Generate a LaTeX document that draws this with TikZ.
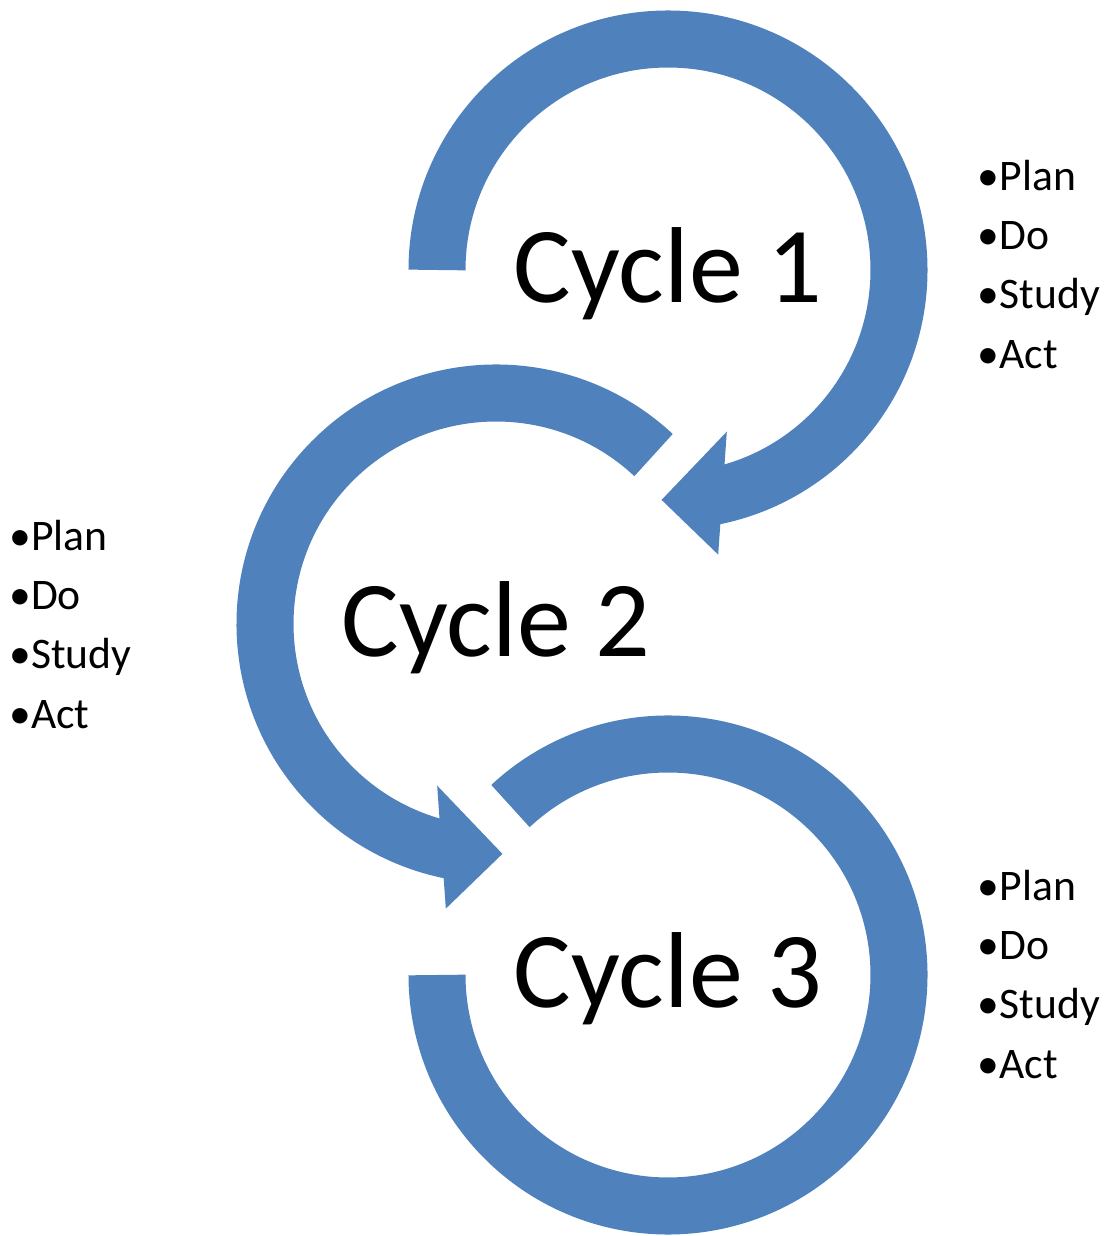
\documentclass[tikz,border=0pt]{standalone}
\usepackage{fontspec}
\setmainfont{Carlito}
\usetikzlibrary{positioning}
\definecolor{pdsablue}{RGB}{79,129,189}

\begin{document}
\begin{tikzpicture}
    [
    x=0.01cm, y=0.01cm,
    ring/.style={draw=pdsablue, line width=0.57cm},
    ring head/.style={fill=pdsablue},
    cycle name/.style={font=\fontsize{30.7}{36}\selectfont, inner sep=0pt},
    phase list/.style={font=\fontsize{12.4}{16.8}\selectfont, align=left, inner sep=0pt},
    ]

    \useasboundingbox (0,0) rectangle (1114,1236);

    \coordinate (c1) at (668,966);
    \coordinate (c2) at (496,612);
    \coordinate (c3) at (668,261);

    % cycle 1, clockwise from the left
    \draw[ring] (c1) ++(180:231) arc[start angle=180, end angle=-80, radius=231];
    \fill[ring head] ([shift={(-70:172)}]c1) -- ([shift={(-91.6:230)}]c1) -- ([shift={(-80:289)}]c1) -- cycle;

    % cycle 2, counter clockwise
    \draw[ring] (c2) ++(47:231) arc[start angle=47, end angle=260, radius=231];
    \fill[ring head] ([shift={(-110:172)}]c2) -- ([shift={(-88.4:230)}]c2) -- ([shift={(-100:289)}]c2) -- cycle;

    % cycle 3, no head
    \draw[ring] (c3) ++(133:231) arc[start angle=133, end angle=-180, radius=231];

    \node[cycle name, below=0.32cm of c1, anchor=base] (cyc1) {Cycle 1};
    \node[cycle name, below=0.32cm of c2, anchor=base] (cyc2) {Cycle 2};
    \node[cycle name, below=0.32cm of c3, anchor=base] (cyc3) {Cycle 3};

    % base anchor sits on the last line (Act)
    \node[phase list, below right=0.98cm and 3.09cm of c1, anchor=base west] (phases1)
    {\textbullet Plan\\\textbullet Do\\\textbullet Study\\\textbullet Act};
    \node[phase list, below left=1.04cm and 4.87cm of c2, anchor=base west] (phases2)
    {\textbullet Plan\\\textbullet Do\\\textbullet Study\\\textbullet Act};
    \node[phase list, below right=1.03cm and 3.09cm of c3, anchor=base west] (phases3)
    {\textbullet Plan\\\textbullet Do\\\textbullet Study\\\textbullet Act};
\end{tikzpicture}
\end{document}
